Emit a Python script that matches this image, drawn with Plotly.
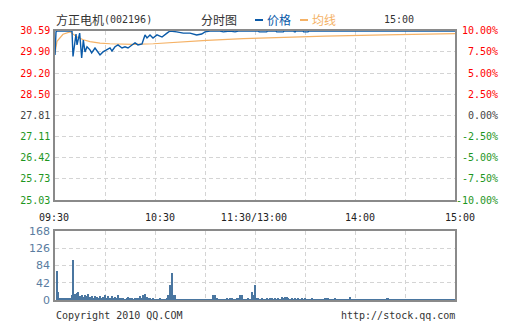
import plotly.graph_objects as go

# ---------------- data ----------------
price_minutes = [0, 0.6, 1.2, 10.2, 10.8, 12.6, 13.2, 14.8, 16, 17, 18, 19.2, 21, 22, 24, 25.8, 27, 28.8,
                 31.2, 33, 34.2, 36, 37.8, 40.2, 42, 43.8, 46.2, 48, 49.8, 52.2, 54, 55.2, 57, 58.8, 61.2,
                 64.2, 67.2, 69, 73, 77, 81, 85, 88, 90, 93, 99, 101, 105, 108, 110, 122, 122.5, 127,
                 127.5, 132.5, 133, 137, 137.5, 143.3, 143.6, 144.2, 144.5, 148.8, 149.2, 151.8, 152.2, 240]
price_values = [29.80, 30.56, 30.59, 30.59, 29.75, 30.49, 30.13, 30.52, 29.70, 30.29, 29.90, 30.07, 29.97,
                29.87, 30.03, 29.87, 29.80, 29.90, 29.97, 30.03, 29.93, 30.07, 30.13, 30.03, 30.07, 30.03,
                30.13, 30.20, 30.13, 30.16, 30.46, 30.36, 30.46, 30.36, 30.46, 30.39, 30.52, 30.59, 30.56,
                30.52, 30.52, 30.46, 30.49, 30.56, 30.59, 30.59, 30.56, 30.59, 30.56, 30.59, 30.59, 30.56,
                30.56, 30.59, 30.59, 30.56, 30.56, 30.59, 30.59, 30.56, 30.56, 30.59, 30.59, 30.56, 30.56,
                30.59, 30.59]

avg_minutes = [0, 1.2, 4.8, 9, 13, 17, 21, 27, 33, 47, 59, 67, 71, 91, 113, 123, 138, 162, 198, 228, 240]
avg_values = [29.85, 30.25, 30.48, 30.56, 30.40, 30.30, 30.24, 30.19, 30.17, 30.15, 30.17, 30.20, 30.22,
              30.28, 30.34, 30.36, 30.39, 30.42, 30.46, 30.49, 30.50]

volume = [
    71, 20, 6, 5, 4, 6, 3, 4, 5, 12, 98, 14, 18, 20, 10, 12, 8, 12, 10, 14,      # 1-20
    8, 10, 5, 10, 8, 5, 10, 5, 8, 11, 4, 10, 6, 10, 4, 8, 3, 12, 6, 3,           # 21-40
    5, 2, 4, 8, 3, 5, 2, 6, 3, 4, 10, 6, 12, 14, 8, 3, 4, 2, 6, 2,               # 41-60
    2, 1, 6, 2, 2, 1, 3, 13, 36, 66, 13, 13, 1, 1, 2, 1, 1, 2, 1, 1,            # 61-80
    2, 1, 1, 2, 1, 1, 2, 1, 2, 1, 1, 2, 1, 2, 13, 13, 4, 1, 2, 1,               # 81-100
    2, 1, 5, 2, 6, 4, 2, 1, 5, 6, 13, 13, 1, 2, 1, 6, 1, 20, 13, 36,            # 101-120
    4, 3, 2, 3, 2, 2, 3, 2, 3, 4, 2, 3, 2, 4, 2, 8, 3, 8, 7, 4,                 # 121-140
    2, 5, 2, 3, 2, 4, 2, 3, 1, 4, 1, 2, 1, 6, 1, 2, 1, 1, 2, 1,                 # 141-160
    2, 6, 5, 6, 1, 2, 1, 5, 1, 1, 1, 1, 1, 1, 1, 1, 7, 1, 1, 1,                 # 161-180
    1, 1, 1, 1, 1, 1, 1, 1, 1, 1, 1, 1, 1, 1, 1, 1, 1, 1, 3, 3,                 # 181-200
    2, 1, 1, 1, 1, 1, 1, 1, 1, 1, 1, 1, 1, 1, 1, 1, 1, 1, 1, 1,                 # 201-220
    1, 1, 1, 1, 1, 1, 1, 1, 1, 1, 1, 1, 1, 1, 1, 1, 1, 1, 1, 1,                 # 221-240
]
volume_minutes = list(range(1, len(volume) + 1))

time_ticks = [0, 30, 60, 90, 120, 150, 180, 210, 240]
time_labels = ["09:30\u00a0\u00a0", "", "10:30", "", "11:30/13:00\u00a0\u00a0", "", "14:00", "", "15:00"]

price_ticks = [25.03, 25.73, 26.42, 27.11, 27.81, 28.50, 29.20, 29.90, 30.59]
price_labels = ["25.03", "25.73", "26.42", "27.11", "27.81", "28.50", "29.20", "29.90", "30.59"]
pct_labels = ["-10.00%", "-7.50%", "-5.00%", "-2.50%", "0.00%", "2.50%", "5.00%", "7.50%", "10.00%"]
label_colors = ["#1e961e"] * 4 + ["#444444"] + ["#ff0000"] * 4

vol_ticks = [0, 42, 84, 126, 168]

# ---------------- styling ----------------
W, H = 505, 330
PRICE_C = "#0a5aa8"
AVG_C = "#f5b266"
VOL_C = "#4a76a0"
GRID_C = "#d4d4d4"
AXIS_C = "#8a8a8a"
MONO = "DejaVu Sans Mono"
CJK = "Noto Sans CJK SC"


def px_x(p):
    return p / W


def px_y(p):
    return 1 - p / H


x_dom = [px_x(55), px_x(455)]

fig = go.Figure()
fig.add_trace(go.Scatter(x=avg_minutes, y=avg_values, mode="lines",
                         line=dict(color=AVG_C, width=1.2), xaxis="x", yaxis="y", hoverinfo="skip"))
fig.add_trace(go.Scatter(x=price_minutes, y=price_values, mode="lines",
                         line=dict(color=PRICE_C, width=1.4), xaxis="x", yaxis="y", hoverinfo="skip"))
fig.add_trace(go.Scatter(x=price_minutes, y=price_values, mode="lines", opacity=0,
                         line=dict(color=PRICE_C, width=0), xaxis="x", yaxis="y3", hoverinfo="skip"))
fig.add_trace(go.Bar(x=volume_minutes, y=volume, width=0.6, marker=dict(color=VOL_C, line=dict(width=0)),
                     xaxis="x2", yaxis="y2", hoverinfo="skip"))

yrange = [25.03, 30.605]
grid_common = dict(showgrid=True, gridcolor=GRID_C, griddash="4px,3px", gridwidth=1,
                   showline=True, linecolor=AXIS_C, linewidth=1.5, mirror=True, ticks="",
                   zeroline=False, fixedrange=True, automargin=False)

fig.update_layout(
    width=W, height=H, margin=dict(l=0, r=0, t=0, b=0),
    paper_bgcolor="white", plot_bgcolor="white", showlegend=False, bargap=0,
    xaxis=dict(domain=x_dom, range=[0, 240], anchor="y", tickvals=time_ticks, ticktext=time_labels,
               tickfont=dict(family=MONO, size=10, color="#222222"), ticklabelstandoff=7,
               ticklabelshift=5, **grid_common),
    yaxis=dict(domain=[px_y(200), px_y(30.5)], range=yrange, anchor="x", tickvals=price_ticks,
               ticktext=[f'<span style="color:{c}">{t}</span>' for t, c in zip(price_labels, label_colors)],
               tickfont=dict(family=MONO, size=10), ticklabelstandoff=1, **grid_common),
    yaxis3=dict(overlaying="y", side="right", range=yrange, anchor="x", tickvals=price_ticks,
                ticktext=[f'<span style="color:{c}">{t.rjust(7, chr(160))}</span>'
                          for t, c in zip(pct_labels, label_colors)],
                tickfont=dict(family=MONO, size=10), showgrid=False, showline=False, ticks="",
                zeroline=False, fixedrange=True, automargin=False),
    xaxis2=dict(domain=x_dom, range=[0, 240], anchor="y2", tickvals=time_ticks, showticklabels=False,
                **grid_common),
    yaxis2=dict(domain=[px_y(300), px_y(231)], range=[0, 168], anchor="x2", tickvals=vol_ticks,
                tickfont=dict(family="DejaVu Sans", size=11, color="#5a7ca0"), ticklabelstandoff=1,
                **grid_common),
)

# header texts
def ann(text, x, y, color, size=10, family=MONO, xanchor="left"):
    fig.add_annotation(text=text, x=px_x(x), y=px_y(y), xref="paper", yref="paper", showarrow=False,
                       xanchor=xanchor, yanchor="middle", font=dict(family=family, size=size, color=color))

ann("方正电机", 54, 20, "#333333", size=12, family=CJK)
ann("(002196)", 102, 20, "#333333")
ann("分时图", 199, 20, "#333333", size=12, family=CJK)
ann("价格", 265, 20, PRICE_C, size=12, family=CJK)
ann("均线", 310, 20, AVG_C, size=12, family=CJK)
ann("15:00", 382, 20, "#333333")
ann("Copyright 2010 QQ.COM", 54, 315, "#333333")
ann("http://stock.qq.com", 457, 315, "#333333", xanchor="right")

for x0, x1, c in [(255, 263, PRICE_C), (300, 308, AVG_C)]:
    fig.add_shape(type="line", xref="paper", yref="paper", x0=px_x(x0), x1=px_x(x1),
                  y0=px_y(20), y1=px_y(20), line=dict(color=c, width=2))

fig.write_html("out.html")
